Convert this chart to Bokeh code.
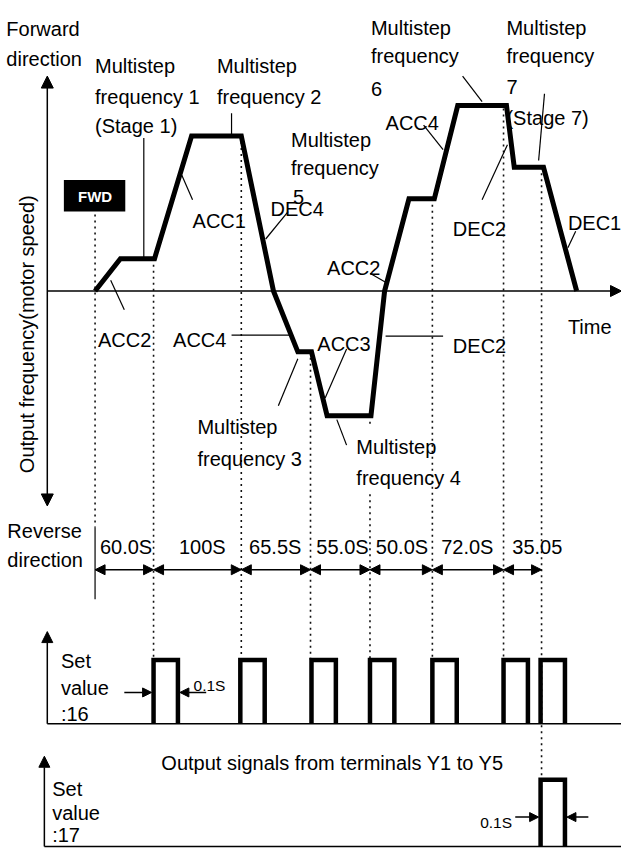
import math
import numpy as np
from bokeh.plotting import figure
from bokeh.models import ColumnDataSource, Range1d, Arrow, NormalHead
from bokeh.embed import file_html
from bokeh.resources import INLINE
from bokeh.core.properties import value

W_REF, H_REF = 637, 864          # diagram canvas units (y measured downward)

# ---------------- data ----------------
zero_level = 296                  # position of the time axis
# multistep speed profile: time marks and output frequency (units above the time axis)
profile_t = [97, 123, 158, 196, 247, 280, 305, 319, 335, 380, 394, 419, 445, 469, 519, 527, 557, 591]
profile_f = [0, 33, 33, 158, 158, 0, -62, -62, -127, -127, 0, 94, 94, 189, 189, 126, 126, 0]

stage_bounds = [97, 157, 247, 318, 379, 443, 516, 555]
stage_durations = ["60.0S", "100S", "65.5S", "55.0S", "50.0S", "72.0S", "35.05"]
duration_label_x = [102, 183, 255, 324, 385, 452, 525]

pulse16_starts = [157, 246, 319, 379, 443, 516, 554]
pulse17_starts = [554]
pulse_width = 25

# ---------------- layout helpers ----------------
def Y(v):
    if isinstance(v, (list, tuple, np.ndarray)):
        return [H_REF - a for a in v]
    return H_REF - v

FONT = value("Liberation Sans")
FS = "20px"

p = figure(width=621, height=848, x_range=Range1d(0, W_REF), y_range=Range1d(0, H_REF),
           output_backend="svg", toolbar_location=None, min_border=0,
           x_axis_location=None, y_axis_location=None)
p.grid.visible = False
p.outline_line_color = None
p.background_fill_color = "white"
p.border_fill_color = "white"

def arrows(x0, y0, x1, y1, size, both=False, lw=1.5):
    src = ColumnDataSource(dict(x0=x0, y0=Y(y0), x1=x1, y1=Y(y1)))
    head = lambda: NormalHead(size=size, fill_color="black", line_color="black", line_width=1)
    a = Arrow(end=head(), start=head() if both else None,
              x_start="x0", y_start="y0", x_end="x1", y_end="y1",
              source=src, line_color="black", line_width=lw)
    p.add_layout(a)

# ---------------- axes of the main diagram ----------------
arrows([48], [515], [48], [77], 12, both=True)
arrows([48], [zero_level], [637], [zero_level], 11)

# dotted stage boundaries
tops = list(zero_level - np.interp(stage_bounds, profile_t, profile_f))
tops[0] = 218
tops[-2] = 110
pulse1_top, pulse1_base = 672, 737
pulse2_top, pulse2_base = 794, 862
dx, dy = [], []
for i, (b, t) in enumerate(zip(stage_bounds, tops)):
    if i == 0:
        dx.append([b, b]); dy.append(Y([t, 537]))
    elif b == 379:
        dx.append([b, b]); dy.append(Y([t, 433]))
        dx.append([b, b]); dy.append(Y([503, pulse1_top]))
    elif i == len(stage_bounds) - 1:
        dx.append([b, b]); dy.append(Y([t, pulse2_top]))
    else:
        dx.append([b, b]); dy.append(Y([t, pulse1_top]))
p.multi_line(dx, dy, line_color="#111111", line_width=1.6, line_dash="2 4")

# solid start tick of the duration ruler
p.line([97, 97], Y([537, 610]), line_color="black", line_width=1.2)

# speed profile
p.line(profile_t, Y([zero_level - f for f in profile_f]), line_color="black",
       line_width=5, line_join="miter")

# leader lines
leaders = [
    ((147, 140), (147, 263)), ((237, 115), (237, 138)), ((113, 285), (127, 315)),
    ((186, 178), (197, 203)), ((295, 215), (272, 243)), ((237, 341), (296, 341)),
    ((285, 413), (305, 365)), ((355, 355), (333, 405)), ((345, 427), (355, 453)),
    ((395, 342), (454, 342)), ((379, 278), (395, 287)), ((520, 147), (494, 203)),
    ((590, 235), (582, 252)), ((434, 127), (454, 152)), ((474, 77), (494, 103)),
    ((558, 95), (552, 163)),
]
p.multi_line([[a[0], b[0]] for a, b in leaders], [Y([a[1], b[1]]) for a, b in leaders],
             line_color="black", line_width=1.2)

# FWD box
p.quad(left=[65], right=[128], top=[Y(183)], bottom=[Y(215)], fill_color="black", line_color=None)
p.text(x=[97], y=[Y(200)], text=["FWD"], text_color="white", text_font=FONT,
       text_font_size="15px", text_font_style="bold", text_align="center", text_baseline="middle")

# duration ruler
arrows(stage_bounds[:-1], [580] * 7, stage_bounds[1:], [580] * 7, 10, both=True)
p.text(x=duration_label_x, y=Y([557] * 7), text=stage_durations, text_font=FONT,
       text_font_size=FS, text_baseline="alphabetic", text_align="left", text_color="black")

# ---------------- output pulse rows ----------------
arrows([48], [pulse1_base], [48], [643], 11)
p.line([48, 637], Y([pulse1_base] * 2), line_color="black", line_width=1.5)
p.multi_line([[s, s, s + pulse_width, s + pulse_width] for s in pulse16_starts],
             [Y([pulse1_base, pulse1_top, pulse1_top, pulse1_base]) for s in pulse16_starts],
             line_color="black", line_width=4.5, line_join="miter")

arrows([45], [pulse2_base], [45], [770], 11)
p.line([45, 637], Y([pulse2_base] * 2), line_color="black", line_width=1.5)
p.multi_line([[s, s, s + pulse_width, s + pulse_width] for s in pulse17_starts],
             [Y([pulse2_base, pulse2_top, pulse2_top, pulse2_base]) for s in pulse17_starts],
             line_color="black", line_width=4.5, line_join="miter")

# 0.1S width markers
arrows([127, 211], [705, 705], [155, 184], [705, 705], 9)
arrows([528, 603], [832, 832], [552, 581], [832, 832], 9)
p.text(x=[198, 492], y=Y([698, 837]), text=["0.1S", "0.1S"], text_font=FONT,
       text_font_size="15.5px", text_baseline="alphabetic", text_align="left", text_color="black")

# ---------------- labels ----------------
labels = [
    ("Forward", 6, 29), ("direction", 6, 60),
    ("Multistep", 97, 67), ("frequency 1", 97, 98), ("(Stage 1)", 97, 128),
    ("Multistep", 222, 67), ("frequency 2", 222, 98),
    ("Multistep", 298, 142), ("frequency", 298, 171), ("5", 300, 200),
    ("DEC4", 277, 212), ("ACC1", 197, 225),
    ("ACC2", 100, 346), ("ACC4", 177, 346),
    ("Multistep", 202, 435), ("frequency 3", 202, 467),
    ("ACC3", 325, 350),
    ("Multistep", 365, 455), ("frequency 4", 365, 487),
    ("DEC2", 464, 352), ("ACC2", 335, 273), ("DEC2", 464, 233),
    ("DEC1", 582, 227), ("Time", 582, 333), ("ACC4", 395, 125),
    ("Multistep", 380, 28), ("frequency", 380, 57), ("6", 380, 90),
    ("Multistep", 519, 28), ("frequency", 519, 57), ("7", 519, 88), ("(Stage 7)", 519, 120),
    ("Reverse", 7, 540), ("direction", 7, 570),
    ("Set", 62, 673), ("value", 62, 700), (":16", 62, 727),
    ("Output signals from terminals Y1 to Y5", 165, 777),
    ("Set", 53, 803), ("value", 53, 828), (":17", 53, 850),
]
p.text(x=[l[1] for l in labels], y=Y([l[2] for l in labels]), text=[l[0] for l in labels],
       text_font=FONT, text_font_size=FS, text_baseline="alphabetic", text_align="left",
       text_color="black")

# rotated axis title
p.text(x=[27], y=[Y(340)], text=["Output frequency(motor speed)"], angle=math.pi / 2,
       text_font=FONT, text_font_size=FS, text_baseline="alphabetic", text_align="center",
       text_color="black")

open("out.html", "w").write(file_html(p, INLINE))
